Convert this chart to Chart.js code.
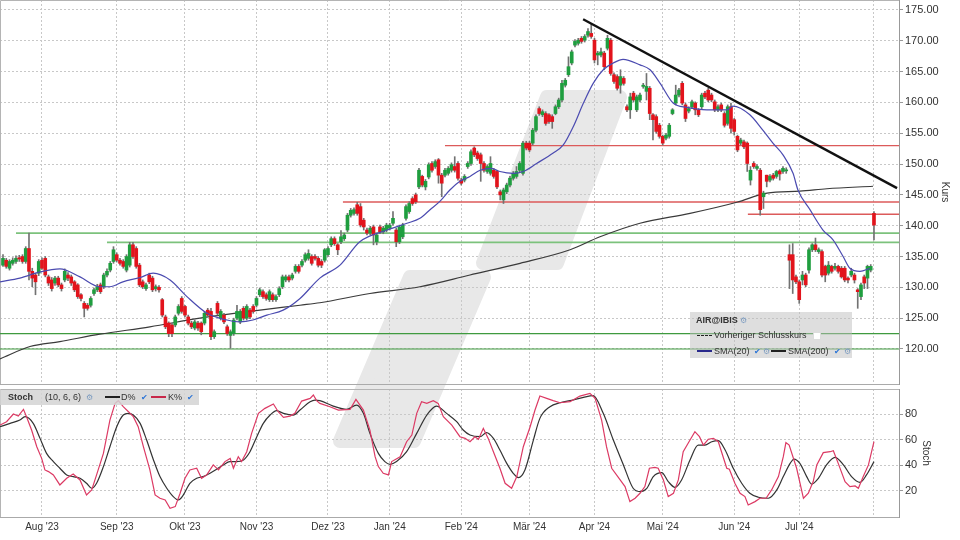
<!DOCTYPE html>
<html lang="de">
<head>
<meta charset="UTF-8">
<title>AIR@IBIS Kurs mit SMA und Stochastik</title>
<style>
  html, body { margin: 0; padding: 0; background: #fff; }
  body { width: 960px; height: 540px; position: relative; overflow: hidden;
         font-family: "Liberation Sans", Arial, sans-serif; color: #333; }
  #logo { position: absolute; left: 0; top: 0; }
  .panel { position: absolute; left: 0; width: 960px; }
  #kursPanel { top: 0; height: 386px; }
  #stochPanel { top: 386px; height: 154px; }
  .box { position: absolute; font-size: 9px; line-height: 11px; white-space: nowrap; color: #333; }
  .box span { position: absolute; }
  .legend { left: 690px; top: 312px; width: 162px; height: 46px; background: rgba(190,190,190,0.5); }
  .head { left: 0; top: 390px; width: 199px; height: 15px; background: rgba(212,212,212,0.85); }
  .b { font-weight: bold; }
  .gear { color: #7d9cc0; font-size: 8px; }
  .ok { color: #2b74d6; font-size: 8px; }
  .ln { height: 0; width: 15px; border-top: 2px solid #222; }
  .chk { width: 6px; height: 6px; background: #fff; border: 1px solid #ddd; }
</style>
</head>
<body>
<canvas id="logo" width="960" height="540"></canvas>
<div class="panel" id="kursPanel"><canvas id="kurs"></canvas></div>
<div class="panel" id="stochPanel"><canvas id="stoch"></canvas></div>

<div class="box legend">
  <span class="b" style="left:6px;top:3px">AIR@IBIS</span>
  <span class="gear" style="left:50px;top:3px">⚙</span>
  <span class="ln" style="left:7px;top:23px;border-top:1px dashed #222"></span>
  <span style="left:24px;top:18px">Vorheriger Schlusskurs</span>
  <span class="chk" style="left:123px;top:20px"></span>
  <span class="ln" style="left:7px;top:38px;border-color:#2a2a8c"></span>
  <span style="left:24px;top:34px">SMA(20)</span>
  <span class="ok" style="left:64px;top:34px">✔</span>
  <span class="gear" style="left:73px;top:34px">⚙</span>
  <span class="ln" style="left:81px;top:38px"></span>
  <span style="left:98px;top:34px">SMA(200)</span>
  <span class="ok" style="left:144px;top:34px">✔</span>
  <span class="gear" style="left:154px;top:34px">⚙</span>
</div>

<div class="box head">
  <span class="b" style="left:8px;top:2px">Stoch</span>
  <span style="left:45px;top:2px">(10, 6, 6)</span>
  <span class="gear" style="left:86px;top:2px">⚙</span>
  <span class="ln" style="left:105px;top:6px"></span>
  <span style="left:121px;top:2px">D%</span>
  <span class="ok" style="left:141px;top:2px">✔</span>
  <span class="ln" style="left:151px;top:6px;border-color:#c8284a"></span>
  <span style="left:168px;top:2px">K%</span>
  <span class="ok" style="left:187px;top:2px">✔</span>
</div>

<script src="https://cdn.jsdelivr.net/npm/chart.js"></script>
<script>
// Handelstage: Index 0 = 01.08.2023, erste Kerze = 14.07.2023 (Index -12)
const firstDay = -12;
const xMin = -12.92, xMax = 263.7;
const lastDay = 256;
const monthDays = [0, 23, 44, 66, 88, 107, 129, 150, 170, 191, 213, 233];
const monthLabels = ["Aug '23", "Sep '23", "Okt '23", "Nov '23", "Dez '23", "Jan '24",
                     "Feb '24", "Mär '24", "Apr '24", "Mai '24", "Jun '24", "Jul '24"];
const kursTicks = [120, 125, 130, 135, 140, 145, 150, 155, 160, 165, 170, 175];
const stochTicks = [20, 40, 60, 80];

// Kerzen (je 10 Tage pro Zeile)
const openP = [
  133.6,134.4,133.1,133.9,134.2,134.8,135.0,134.2,136.3,132.6,
  132.0,132.3,134.4,134.7,131.7,131.2,130.7,131.5,130.4,131.2,
  132.0,131.7,130.9,130.4,128.8,127.4,127.1,127.1,129.0,129.6,
  130.4,130.1,132.0,132.8,134.2,135.3,134.4,134.2,132.8,133.6,
  136.9,136.3,133.6,130.9,129.8,132.0,131.5,129.8,130.0,128.0,
  125.2,124.2,123.9,123.9,125.8,128.2,126.9,125.2,124.2,123.4,
  124.2,124.2,124.2,126.3,126.1,122.0,127.4,125.0,125.5,123.6,
  122.2,122.5,125.0,124.4,126.6,125.0,126.3,126.9,127.1,128.8,
  129.3,128.8,128.0,128.8,128.0,128.8,130.1,131.2,131.7,131.5,
  132.6,133.4,133.6,134.4,134.7,135.0,135.0,134.7,134.2,134.4,
  135.3,136.9,137.9,136.9,137.4,137.9,139.3,141.7,142.0,143.4,
  143.1,140.9,139.3,138.8,139.8,137.4,139.8,139.0,139.3,139.6,
  140.4,139.3,137.4,138.2,141.2,142.3,144.4,145.0,146.3,148.0,
  146.3,147.9,150.1,149.6,150.7,148.2,148.2,148.5,149.0,149.6,
  150.1,147.4,147.4,149.6,150.1,152.6,151.8,151.5,150.1,148.8,
  148.5,149.0,148.8,145.5,144.2,145.5,146.6,147.7,148.0,149.0,
  148.5,153.4,153.4,153.4,155.5,159.0,158.0,158.2,158.0,157.7,
  158.2,159.3,160.4,162.8,164.5,166.4,169.3,169.6,170.4,170.1,
  170.9,171.2,170.1,167.7,167.7,168.0,168.8,170.1,164.5,164.2,
  162.8,163.9,159.3,158.8,161.5,158.8,160.4,162.6,161.8,162.3,
  158.0,157.7,156.3,154.5,154.2,154.5,158.2,159.9,161.2,163.1,
  159.6,158.6,159.3,159.9,158.8,159.3,161.5,162.0,161.2,160.1,
  158.8,159.6,158.2,156.6,159.3,157.2,154.5,153.4,153.6,153.4,
  147.4,150.1,149.3,149.0,144.7,148.2,147.4,148.2,148.0,148.9,
  148.8,148.9,135.3,135.3,131.7,130.9,131.2,132.0,132.8,136.1,
  136.9,135.8,135.8,133.4,132.3,133.4,133.1,133.4,133.1,133.1,
  131.5,132.0,132.0,129.6,128.5,131.7,131.5,132.8,142.0
];
const highP = [
  135.3,134.7,134.5,134.8,135.1,135.2,135.3,136.6,138.8,133.1,
  132.3,134.5,134.8,135.0,132.0,131.6,131.8,131.8,130.7,133.0,
  132.4,132.0,131.1,130.6,129.0,127.7,127.4,128.5,129.9,130.5,
  130.7,132.3,133.0,134.2,136.6,135.6,134.7,134.5,135.3,137.3,
  137.3,136.6,133.9,131.2,130.7,132.3,131.8,130.4,130.3,128.2,
  125.5,124.4,124.2,125.5,127.2,128.5,127.1,125.5,124.5,124.7,
  124.5,124.4,126.1,126.6,126.6,123.1,127.7,126.4,125.8,123.9,
  123.1,125.0,127.1,126.4,126.9,127.2,126.6,127.2,128.5,129.9,
  129.6,129.1,129.6,129.1,128.8,130.1,132.0,132.0,132.0,132.3,
  133.7,133.7,134.5,135.6,136.1,135.3,135.3,135.0,134.5,136.3,
  136.6,138.2,138.2,137.1,139.2,138.8,142.0,142.8,142.9,143.8,
  143.6,141.2,139.6,139.9,140.1,138.8,140.1,139.9,140.4,140.4,
  142.3,139.6,140.1,140.4,143.4,143.9,144.7,145.3,149.3,148.2,
  147.5,150.2,150.4,150.7,150.9,148.5,149.3,149.6,150.2,151.2,
  150.4,147.7,148.3,150.4,152.3,152.8,152.1,151.8,150.4,149.9,
  151.2,149.3,149.0,145.8,146.1,146.9,148.0,148.8,149.6,150.4,
  153.7,153.7,153.7,155.8,158.0,159.3,158.8,158.5,158.2,158.0,
  159.6,160.7,163.6,163.9,167.4,168.5,170.2,170.4,170.7,171.0,
  172.0,172.8,170.4,168.3,168.8,168.3,170.9,170.4,164.8,164.5,
  165.3,164.2,159.6,161.5,161.8,161.2,161.5,163.1,164.7,162.6,
  158.2,158.0,156.6,154.7,155.0,156.6,159.0,162.8,162.3,163.4,
  159.9,159.3,160.4,160.1,159.0,161.5,161.8,162.3,161.5,160.4,
  159.6,159.9,158.5,159.6,159.9,157.4,154.7,154.2,153.9,153.6,
  149.6,150.4,149.9,149.3,145.6,148.2,148.3,148.5,149.0,149.1,
  149.6,149.4,136.9,137.1,132.0,131.2,132.6,132.3,136.4,137.1,
  138.0,136.4,136.1,133.6,134.2,133.6,133.9,133.6,133.4,133.4,
  131.7,133.1,132.3,129.8,130.7,132.0,133.6,133.7,142.3
];
const lowP = [
  133.4,133.1,132.8,133.6,133.9,134.2,133.9,133.9,131.2,130.1,
  128.8,131.9,132.9,131.7,130.3,129.4,130.3,130.1,129.4,130.9,
  131.1,130.3,129.3,128.2,127.8,125.2,126.3,126.8,128.7,129.3,
  129.0,129.8,131.7,132.5,133.9,134.1,133.6,133.1,132.5,133.3,
  134.7,133.1,130.1,129.8,129.5,130.6,129.3,129.4,129.2,125.2,
  123.3,122.0,122.0,123.6,125.5,125.8,125.2,123.9,123.3,123.1,
  123.0,122.3,123.9,125.2,121.5,121.7,125.5,124.7,124.1,122.2,
  120.1,122.2,124.7,124.1,124.7,124.7,124.9,125.8,126.8,128.5,
  128.2,127.9,127.7,127.7,127.7,128.5,129.8,130.9,130.9,131.2,
  132.3,132.3,133.3,134.1,134.4,133.6,134.4,133.3,133.2,134.1,
  135.0,136.6,136.8,135.3,137.1,137.6,139.0,141.4,141.7,141.7,
  139.8,139.3,138.5,138.5,136.9,136.9,138.7,138.7,139.0,139.3,
  140.1,136.6,137.1,137.9,140.9,142.0,143.3,143.6,146.0,146.3,
  145.8,147.6,148.7,149.3,146.9,144.7,147.9,148.2,148.7,148.7,
  147.4,146.6,147.1,149.3,149.8,151.2,150.6,147.2,148.7,148.5,
  148.2,147.7,146.0,144.2,143.6,145.2,146.3,147.4,147.7,148.7,
  148.2,152.3,152.0,153.1,155.2,157.9,157.7,156.3,156.6,155.8,
  158.0,159.0,160.1,162.5,164.2,166.1,169.0,169.3,169.6,169.8,
  170.6,170.4,166.4,166.1,167.4,165.3,168.5,164.4,163.1,162.0,
  161.5,162.8,158.5,157.4,160.1,158.5,160.1,162.3,160.4,157.2,
  153.9,155.0,154.2,153.1,153.9,154.2,158.0,159.6,160.9,159.6,
  156.9,158.3,159.0,158.0,157.7,159.0,160.6,160.1,160.1,158.5,
  158.5,158.5,156.0,156.3,155.0,154.7,152.0,153.1,152.5,148.8,
  146.6,149.3,149.0,141.7,142.8,146.3,147.1,147.4,147.7,147.4,
  148.5,148.5,129.8,129.0,130.6,127.4,130.4,130.1,132.3,135.8,
  135.8,135.5,131.7,130.9,132.0,132.3,132.8,132.3,131.5,130.9,
  130.7,131.7,130.7,126.6,128.0,129.8,129.8,132.5,137.7
];
const closeP = [
  134.7,133.4,134.2,134.4,134.7,134.6,134.2,136.3,132.6,131.5,
  130.9,134.2,133.1,132.0,130.7,129.8,131.5,130.4,129.8,132.6,
  131.5,130.7,129.6,128.5,128.2,126.6,126.6,128.2,129.6,130.1,
  129.3,132.0,132.6,133.9,136.1,134.4,133.9,133.4,135.0,136.9,
  135.0,133.4,130.4,130.1,130.4,130.9,129.6,130.1,129.6,125.5,
  123.6,122.5,122.5,125.2,126.9,126.1,125.5,124.2,123.6,124.4,
  123.4,122.8,125.8,125.5,122.0,122.8,125.8,126.1,124.4,122.5,
  122.8,124.7,126.1,126.1,125.0,126.9,125.2,126.1,128.2,129.6,
  128.5,128.2,129.3,128.0,128.5,129.8,131.7,131.7,131.2,132.0,
  133.4,132.6,134.2,135.3,135.5,133.9,134.7,133.6,133.6,136.1,
  136.3,137.9,137.1,136.1,138.2,138.5,141.7,142.5,142.6,142.0,
  140.1,139.8,138.8,139.6,138.5,138.5,139.0,139.6,140.1,140.1,
  141.2,137.4,139.8,140.1,143.1,143.6,143.6,143.9,149.0,146.6,
  147.2,149.9,149.0,150.4,148.2,146.9,149.0,149.3,149.9,149.0,
  147.7,146.9,148.0,150.1,152.0,151.5,150.9,150.1,149.0,149.6,
  150.1,148.0,146.3,145.0,145.8,146.6,147.7,148.5,148.8,150.1,
  153.4,152.6,152.3,155.5,157.7,158.2,158.5,156.6,156.9,156.9,
  159.3,160.4,163.1,163.6,165.8,168.2,169.9,170.1,169.9,170.7,
  171.5,170.7,166.9,168.0,168.2,165.8,170.4,164.7,163.4,162.3,
  164.2,163.1,158.8,160.9,160.4,160.9,161.2,162.8,162.6,158.2,
  157.2,155.3,154.5,153.4,154.7,156.3,158.8,161.2,162.0,159.9,
  157.4,159.0,160.1,158.8,158.0,161.2,160.9,160.4,160.4,158.8,
  159.3,158.8,156.3,159.3,155.8,155.3,152.3,153.9,152.8,150.1,
  149.0,149.6,149.6,142.6,145.3,147.2,148.0,147.7,148.8,148.4,
  149.3,149.0,134.4,131.2,130.9,128.0,132.0,130.4,136.1,136.9,
  136.1,136.1,132.0,132.0,133.6,132.6,133.4,132.6,131.7,131.2,
  131.2,132.6,131.2,129.3,130.4,130.7,133.4,133.4,140.1
];

// gleitende Durchschnitte [Tag, Wert]
const sma20 = [[-12.9,130.9],[-6.8,131.5],[-0.6,132.5],[5.5,133.0],[11.7,131.7],[17.8,130.1],[20.9,130.1],
  [24.9,130.9],[30.2,131.6],[34.2,132.3],[39.4,131.2],[44.6,128.5],[50.8,125.8],[56.9,124.7],[60.9,124.4],
  [64.9,124.7],[69.2,125.5],[74.2,126.3],[79.4,128.2],[85.5,131.5],[91.7,133.6],[97.8,137.4],[106.2,139.3],
  [112.3,140.4],[116.3,141.2],[119.4,142.6],[122.5,144.0],[125.5,145.8],[128.6,147.2],[131.7,148.0],
  [134.8,149.0],[138.3,149.3],[140.9,148.8],[145.0,148.5],[148.1,148.8],[152.2,150.1],[157.3,151.8],
  [160.4,153.1],[163.5,156.1],[166.6,159.9],[169.6,163.1],[172.7,165.3],[175.8,166.4],[178.8,167.0],
  [184.0,166.1],[187.1,165.3],[190.2,163.1],[194.2,159.9],[198.5,159.2],[204.6,158.8],[210.8,158.8],
  [212.6,159.4],[217.8,158.0],[221.8,155.5],[224.9,153.4],[228.0,151.5],[231.1,148.5],[232.6,145.8],
  [236.3,142.6],[240.3,139.3],[243.4,137.7],[246.5,135.0],[248.6,133.1],[251.7,132.6],[254.8,133.1]];
const sma200 = [[-12.9,118.4],[-3.7,120.4],[5.5,121.2],[17.8,122.4],[33.2,123.6],[48.6,125.0],[64.0,126.1],
  [79.4,127.1],[85.5,127.5],[100.9,129.0],[116.3,130.1],[131.7,132.0],[147.1,133.9],[162.5,136.1],
  [171.7,138.2],[184.0,140.4],[199.4,142.0],[213.8,143.8],[223.1,145.3],[233.2,145.6],[241.5,146.0],[255.7,146.4]];
const trendLine = [[166.5,173.5],[263.1,146.1]];

// Widerstands- / Unterstuetzungslinien
const redLevels = [153.0, 143.85, 141.85];
const redStarts = [124, 92.6, 217.2];
const greenLevels = [138.8, 137.3, 122.5, 120.0];
const greenStarts = [-8, 20, xMin, xMin];

// Stochastik (10, 6, 6) [Tag, Wert]
const stochK = [[-12.9,71.4],[-10.9,74.0],[-8.8,80.0],[-7.3,78.4],[-5.7,83.6],[-4.7,77.4],[-3.2,67.5],[-1.6,54.5],
  [-0.1,45.4],[0.9,36.4],[2.0,35.1],[3.5,32.5],[5.5,24.7],[7.6,29.9],[9.6,33.2],[11.7,28.6],[13.7,16.9],[15.3,20.8],
  [16.8,32.5],[18.9,49.3],[20.9,75.3],[22.5,88.3],[23.5,90.4],[25.0,85.7],[26.6,81.8],[28.1,77.9],[29.6,70.1],
  [31.2,54.5],[33.2,36.4],[34.8,16.9],[36.3,14.3],[37.9,13.0],[39.4,6.5],[41.0,7.8],[42.5,18.2],[44.0,29.9],
  [45.5,36.4],[47.6,37.7],[49.1,29.9],[50.7,32.5],[52.7,40.3],[54.3,36.4],[56.3,42.9],[57.9,45.4],[58.9,37.7],
  [60.4,46.7],[61.4,42.9],[63.0,50.6],[64.5,64.9],[66.6,80.5],[68.6,84.4],[71.2,87.8],[72.7,81.8],[74.3,77.4],
  [76.3,78.4],[77.8,80.5],[79.9,90.1],[82.5,92.2],[83.5,94.8],[84.5,90.4],[85.5,88.3],[88.6,85.7],[91.2,83.1],
  [94.8,83.6],[96.6,91.4],[98.9,83.1],[100.9,67.5],[102.5,46.7],[103.5,39.0],[105.0,33.8],[106.6,32.5],[107.6,42.9],
  [110.2,46.7],[112.2,58.4],[113.8,63.6],[115.3,80.5],[116.8,89.6],[118.4,88.3],[120.4,90.4],[121.9,88.3],
  [123.5,77.9],[126.1,71.4],[128.6,62.3],[130.2,61.0],[131.7,58.4],[133.2,62.3],[134.3,60.3],[135.8,68.8],
  [137.3,61.0],[138.9,50.6],[140.9,37.7],[142.5,26.0],[144.5,22.1],[146.1,31.2],[148.1,54.5],[150.2,70.1],
  [151.7,83.1],[153.2,94.0],[155.3,92.2],[157.3,90.4],[159.4,88.8],[162.5,89.6],[165.5,94.0],[168.6,96.1],
  [170.2,92.2],[172.2,75.3],[173.7,54.5],[175.3,37.7],[177.9,28.6],[179.4,23.4],[180.9,11.7],[182.5,14.3],
  [184.0,18.2],[185.5,23.4],[186.9,37.7],[188.6,38.4],[189.6,37.7],[191.2,28.6],[192.7,15.6],[194.3,18.2],
  [195.8,28.6],[197.3,50.6],[199.4,59.7],[200.9,66.2],[202.3,62.3],[203.5,55.8],[205.0,60.3],[206.6,61.0],
  [208.1,58.4],[209.4,48.0],[210.7,37.7],[211.5,36.9],[213.2,26.0],[214.8,18.2],[216.3,15.6],[217.3,9.1],
  [219.4,11.7],[220.9,14.3],[222.8,14.3],[224.5,20.8],[226.6,31.2],[228.1,46.7],[228.9,57.7],[229.9,55.8],
  [232.2,37.7],[234.3,14.3],[235.8,18.2],[237.3,27.3],[238.4,40.3],[240.4,49.9],[242.5,50.6],[243.5,51.4],
  [245.0,41.5],[247.1,27.3],[248.6,23.4],[250.2,23.9],[251.2,22.1],[252.7,31.2],[254.3,40.3],[256.0,58.4]];
const stochD = [[-12.9,70.1],[-9.8,72.7],[-6.8,75.3],[-5.2,77.9],[-2.7,72.7],[-0.6,61.0],[1.4,49.3],[3.5,42.9],
  [5.5,37.7],[7.6,32.5],[9.6,31.2],[11.7,29.9],[13.7,26.0],[15.3,22.1],[16.8,26.0],[18.9,39.0],[20.9,54.5],
  [23.0,70.1],[25.0,79.2],[26.6,80.5],[28.1,79.2],[30.2,72.7],[32.2,59.7],[34.3,44.2],[36.3,31.2],[38.4,22.1],
  [40.4,15.6],[42.0,13.0],[43.5,16.9],[45.5,26.0],[47.6,29.9],[49.6,31.2],[51.7,33.8],[53.7,36.9],[55.8,40.3],
  [57.8,42.9],[59.9,42.9],[62.0,44.2],[64.0,50.6],[66.1,62.3],[68.1,72.7],[70.2,79.2],[72.2,82.6],[74.3,80.5],
  [77.3,79.2],[79.4,83.1],[82.5,89.6],[84.0,90.9],[85.5,90.4],[89.6,86.2],[93.7,83.6],[96.8,87.0],[98.9,80.5],
  [100.9,64.9],[103.5,49.3],[105.5,42.9],[107.1,40.8],[109.1,42.9],[112.2,50.6],[115.3,64.9],[118.4,79.2],
  [121.4,86.2],[124.5,80.5],[127.6,74.0],[129.6,67.5],[131.7,63.6],[134.8,62.3],[136.8,65.5],[138.9,61.0],
  [140.9,51.9],[143.0,41.5],[145.0,33.8],[146.6,30.4],[148.6,36.4],[151.2,59.7],[153.2,76.6],[156.3,85.7],
  [159.4,88.8],[162.5,90.4],[166.6,93.0],[169.6,94.3],[172.7,80.5],[175.8,59.7],[178.9,40.3],[181.9,22.1],
  [184.0,19.5],[186.1,22.1],[188.1,31.2],[190.7,34.3],[192.7,27.3],[194.8,22.8],[196.8,28.6],[199.4,44.2],
  [201.9,55.8],[204.0,55.8],[206.1,58.4],[208.1,59.2],[210.2,51.9],[212.7,37.7],[215.3,26.0],[217.8,18.2],
  [220.4,15.1],[223.5,14.3],[226.1,20.8],[228.1,31.2],[230.2,41.5],[231.4,44.9],[233.2,41.5],[235.3,31.2],
  [236.8,25.4],[238.9,29.9],[241.4,40.3],[244.0,46.2],[246.6,40.3],[249.1,31.2],[251.7,26.7],[253.7,32.5],[256.0,42.9]];

// Hintergrund-Logo (nur Dekoration)
const lg = document.getElementById('logo').getContext('2d');
lg.fillStyle = lg.strokeStyle = '#e8e8e8';
lg.lineJoin = 'round';
lg.lineWidth = 14;
[[[547,97],[620,97],[557,263],[483,263]], [[410,277],[484,277],[414,441],[340,441]]].forEach(function (p) {
  lg.beginPath();
  lg.moveTo(p[0][0], p[0][1]);
  for (let i = 1; i < p.length; i++) lg.lineTo(p[i][0], p[i][1]);
  lg.closePath();
  lg.fill();
  lg.stroke();
});

Chart.defaults.font.family = '"Liberation Sans", Arial, sans-serif';
Chart.defaults.color = '#333';

const gridDays = monthDays.concat([lastDay]);
const toXY = arr => arr.map(p => ({ x: p[0], y: p[1] }));
const days = closeP.map((c, k) => firstDay + k);

const frame = {
  id: 'frame',
  beforeDatasetsDraw(chart) {
    const { ctx, chartArea: a } = chart;
    ctx.save();
    ctx.strokeStyle = '#b4b4b4';
    ctx.lineWidth = 1;
    ctx.beginPath();
    ctx.moveTo(a.left + 0.5, a.bottom);
    ctx.lineTo(a.left + 0.5, a.top + 0.5);
    ctx.lineTo(a.right, a.top + 0.5);
    ctx.stroke();
    ctx.restore();
  }
};

function level(v, from, color, width) {
  return { type: 'line', data: [{ x: from, y: v }, { x: xMax, y: v }], borderColor: color,
           borderWidth: width, pointRadius: 0, order: 6 };
}

const levelSets = [];
redLevels.forEach((v, k) => levelSets.push(level(v, redStarts[k], '#dc5a5a', 1.4)));
greenLevels.forEach((v, k) => levelSets.push(level(v, greenStarts[k], k < 2 ? '#7cc27c' : '#3f9a3f', k < 2 ? 1.6 : 1.2)));

new Chart(document.getElementById('kurs'), {
  type: 'bar',
  data: {
    datasets: levelSets.concat([
      { type: 'line', data: toXY(sma200), borderColor: '#3a3a3a', borderWidth: 1.2, pointRadius: 0,
        cubicInterpolationMode: 'monotone', order: 5 },
      { data: days.map((d, k) => ({ x: d, y: [lowP[k], highP[k]] })), backgroundColor: '#727272',
        barThickness: 1, grouped: false, order: 4 },
      { data: days.map((d, k) => ({ x: d, y: [openP[k], closeP[k]] })), grouped: false, order: 3,
        barThickness: 3, minBarLength: 1,
        backgroundColor: c => closeP[c.dataIndex] >= openP[c.dataIndex] ? '#1f9e3f' : '#e2141c' },
      { type: 'line', data: toXY(sma20), borderColor: '#4b4bb0', borderWidth: 1.2, pointRadius: 0,
        cubicInterpolationMode: 'monotone', order: 2 },
      { type: 'line', data: toXY(trendLine), borderColor: '#111', borderWidth: 2.4, pointRadius: 0, order: 1 }
    ])
  },
  options: {
    responsive: true, maintainAspectRatio: false, animation: false,
    layout: { padding: { left: 0, right: 0, top: 0, bottom: 2 } },
    plugins: { legend: { display: false }, tooltip: { enabled: false } },
    scales: {
      x: {
        type: 'linear', min: xMin, max: xMax, offset: false,
        grid: { color: '#c8c8c8', drawTicks: false, offset: false },
        border: { display: true, color: '#aaa', dash: [2, 2] },
        ticks: { display: false },
        afterBuildTicks: s => { s.ticks = gridDays.map(v => ({ value: v })); },
        afterFit: s => { s.height = 0; s.paddingLeft = 0; s.paddingRight = 0; }
      },
      y: {
        position: 'right', min: 114.32, max: 176.62,
        grid: { color: '#c8c8c8', tickLength: 4, tickColor: '#999' },
        border: { color: '#999', dash: [2, 2] },
        ticks: { padding: 2, color: '#333', font: { size: 11 }, callback: v => v.toFixed(2) },
        title: { display: true, text: 'Kurs', color: '#333', font: { size: 10 }, padding: { top: 9, bottom: 0 } },
        afterBuildTicks: s => { s.ticks = kursTicks.map(v => ({ value: v })); },
        afterFit: s => { s.width = 61; s.paddingTop = 0; s.paddingBottom = 0; }
      }
    }
  },
  plugins: [frame]
});

new Chart(document.getElementById('stoch'), {
  type: 'line',
  data: {
    datasets: [
      { data: toXY(stochD), borderColor: '#333', borderWidth: 1.2, pointRadius: 0,
        cubicInterpolationMode: 'monotone', order: 2 },
      { data: toXY(stochK), borderColor: '#dc3a64', borderWidth: 1.2, pointRadius: 0, order: 1 }
    ]
  },
  options: {
    responsive: true, maintainAspectRatio: false, animation: false,
    layout: { padding: { left: 0, right: 0, top: 3, bottom: 0 } },
    plugins: { legend: { display: false }, tooltip: { enabled: false } },
    scales: {
      x: {
        type: 'linear', min: xMin, max: xMax, offset: false,
        grid: { color: '#c8c8c8', drawTicks: false },
        border: { display: true, color: '#aaa', dash: [2, 2] },
        ticks: { padding: 4, color: '#333', font: { size: 10 }, autoSkip: false, maxRotation: 0,
                 callback: v => { const k = monthDays.indexOf(v); return k < 0 ? '' : monthLabels[k]; } },
        afterBuildTicks: s => { s.ticks = gridDays.map(v => ({ value: v })); },
        afterFit: s => { s.height = 23; s.paddingLeft = 0; s.paddingRight = 0; }
      },
      y: {
        position: 'right', min: -0.3, max: 99.5,
        grid: { color: '#c8c8c8', tickLength: 4, tickColor: '#999' },
        border: { color: '#999', dash: [2, 2] },
        ticks: { padding: 2, color: '#333', font: { size: 11 } },
        title: { display: true, text: 'Stoch', color: '#333', font: { size: 10 }, padding: { top: 28, bottom: 0 } },
        afterBuildTicks: s => { s.ticks = stochTicks.map(v => ({ value: v })); },
        afterFit: s => { s.width = 61; s.paddingTop = 0; s.paddingBottom = 0; }
      }
    }
  },
  plugins: [frame]
});
</script>
</body>
</html>
